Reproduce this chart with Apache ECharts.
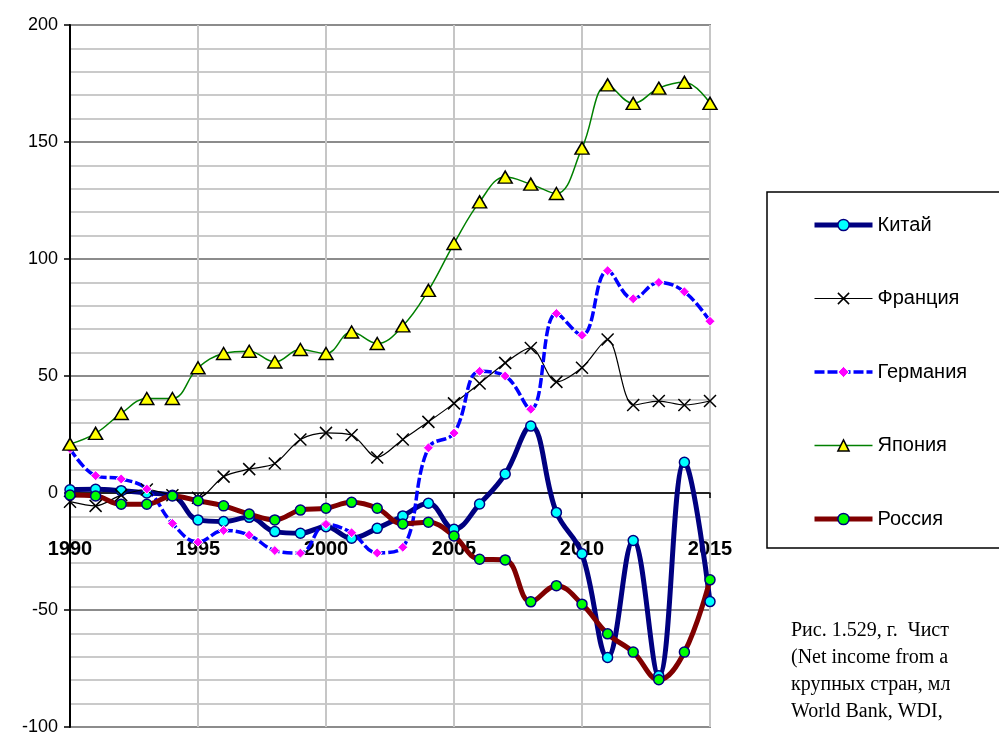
<!DOCTYPE html>
<html>
<head>
<meta charset="utf-8">
<script src="https://cdn.jsdelivr.net/npm/echarts@6/dist/echarts.min.js"></script>
<style>
html,body{margin:0;padding:0;background:#fff;}
#chart{width:999px;height:736px;}
</style>
</head>
<body>
<div id="chart"></div>
<script>
const years = [1990,1991,1992,1993,1994,1995,1996,1997,1998,1999,2000,2001,2002,2003,2004,2005,2006,2007,2008,2009,2010,2011,2012,2013,2014,2015];
const china   = [1.4, 1.6, 1, 0, -1, -11.5, -12.2, -10.4, -16.5, -17.2, -14.4, -19.3, -15.1, -9.8, -4.4, -15.5, -4.7, 8.1, 28.6, -8.3, -26, -70.3, -20.3, -78.1, 13.1, -46.4];
const france  = [-3.7, -5.5, -0.9, 1.5, -1, -2, 7, 10.2, 12.6, 22.9, 25.7, 24.8, 15.2, 22.9, 30.4, 38.3, 46.8, 55.6, 62, 47.5, 53.5, 65.6, 37.6, 39.3, 37.6, 39.3];
const germany = [19, 7.4, 6, 1.7, -13, -21, -16, -18, -24.6, -25.7, -13.4, -17, -25.6, -23.2, 19.3, 25.6, 52, 50, 35.8, 76.7, 67.4, 95, 83, 90, 86, 73.4];
const japan   = [20.9, 25.5, 34, 40.4, 40.4, 53.5, 59.6, 60.6, 56, 61.3, 59.6, 68.8, 63.9, 71.4, 86.6, 106.6, 124.4, 135, 132, 128, 147.4, 174.4, 166.5, 173, 175.5, 166.5];
const russia  = [-0.9, -1.3, -4.8, -4.8, -1.3, -3.3, -5.5, -9, -11.5, -7.3, -6.5, -4, -6.5, -13.2, -12.5, -18.4, -28.3, -28.6, -46.5, -39.6, -47.5, -60.2, -68, -79.8, -68, -37.1];
const seriesNames = ['Китай', 'Франция', 'Германия', 'Япония', 'Россия'];
const captionLines = ['Рис. 1.529, г.  Чист', '(Net income from a', 'крупных стран, мл', 'World Bank, WDI,'];

function pairs(vals){ return years.map((y,i)=>[y, vals[i]]); }

const chart = echarts.init(document.getElementById('chart'), null, {renderer:'canvas'});
const crossPath = 'path://M0,0L10,10M10,0L0,10';

const styles = [
  {line:{color:'#000080', width:5}, symbol:'circle', size:10, item:{color:'#00ffff', borderColor:'#000080', borderWidth:1.5}, smooth:0.4},
  {line:{color:'#000', width:1.2}, symbol:crossPath, size:12, item:{color:'#000', borderColor:'#000', borderWidth:1.5}, smooth:0.3},
  {line:{color:'#0000ff', width:3.5, type:[10,3]}, symbol:'diamond', size:10, item:{color:'#ff00ff', borderColor:'#fff', borderWidth:1}, smooth:0.4},
  {line:{color:'#008000', width:1.5}, symbol:'triangle', size:[14,12], item:{color:'#ffff00', borderColor:'#000', borderWidth:1.5}, smooth:0.4},
  {line:{color:'#800000', width:5}, symbol:'circle', size:10, item:{color:'#00ff00', borderColor:'#000080', borderWidth:1.5}, smooth:0.4}
];
const dataSets = [china, france, germany, japan, russia];

const option = {
  animation: false,
  backgroundColor: '#fff',
  grid: {left:70, right:289, top:25, bottom:9, show:true, borderColor:'#888', borderWidth:2, backgroundColor:'transparent', outerBoundsMode:'none', containLabel:false},
  xAxis: {
    type:'value', min:1990, max:2015, interval:5,
    axisLine:{show:true, onZero:true, lineStyle:{color:'#000', width:1.5}},
    axisTick:{show:true, length:5, lineStyle:{color:'#000', width:1.5}},
    axisLabel:{fontFamily:'Arial, Liberation Sans', fontWeight:'bold', fontSize:20, color:'#000', margin:-188, formatter:(v)=>String(v)},
    splitLine:{show:true, lineStyle:{color:'#c6c6c6', width:2}}
  },
  yAxis: {
    type:'value', min:-100, max:200, interval:50,
    axisLine:{show:true, onZero:false, lineStyle:{color:'#000', width:2}},
    axisTick:{show:true, length:6, lineStyle:{color:'#000', width:1.5}},
    axisLabel:{fontFamily:'Arial, Liberation Sans', fontSize:18, color:'#000', margin:12},
    splitLine:{show:true, lineStyle:{color:'#8c8c8c', width:2}},
    minorTick:{show:false, splitNumber:5},
    minorSplitLine:{show:true, lineStyle:{color:'#cacaca', width:2}}
  },
  legend: {
    orient:'vertical', left:767, top:192,
    padding:[23, 60, 19, 45],
    borderColor:'#000', borderWidth:1.5, backgroundColor:'#fff',
    itemWidth:58, itemHeight:14, itemGap:53.5,
    textStyle:{fontFamily:'Arial, Liberation Sans', fontSize:20, color:'#000', lineHeight:20},
    data: seriesNames.map((n,i)=>({name:n, lineStyle:styles[i].line, itemStyle:styles[i].item}))
  },
  series: seriesNames.map((n,i)=>({
    name:n, type:'line', data:pairs(dataSets[i]), smooth:styles[i].smooth,
    lineStyle:styles[i].line, symbol:styles[i].symbol, symbolSize:styles[i].size,
    itemStyle:styles[i].item, emphasis:{disabled:true}
  })),
  graphic: captionLines.map((t,i)=>({
    type:'text', left:791, top:621 + i*27,
    style:{text:t, fontFamily:'Times New Roman, Liberation Serif', fontSize:20, fill:'#000'}
  }))
};
chart.setOption(option);
</script>
</body>
</html>
